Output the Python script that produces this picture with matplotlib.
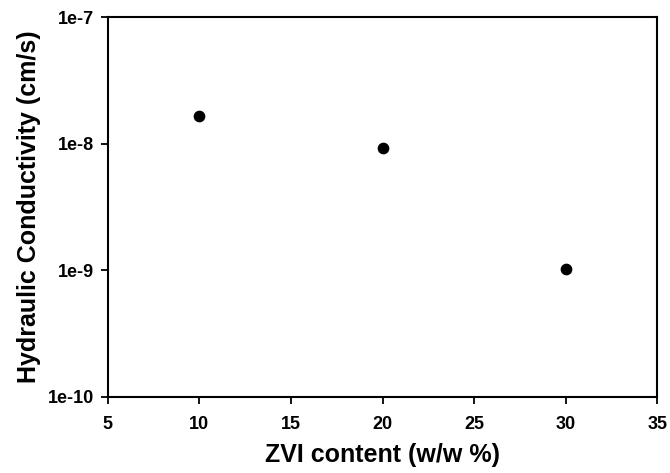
import matplotlib
matplotlib.use("Agg")
import matplotlib.pyplot as plt
from matplotlib.ticker import FixedLocator, FixedFormatter, NullLocator

zvi = [10, 20, 30]
conductivity = [1.65e-8, 9.3e-9, 1.02e-9]
ytick_vals = [1e-10, 1e-9, 1e-8, 1e-7]
ytick_labels = ["1e-10", "1e-9", "1e-8", "1e-7"]
xtick_vals = [5, 10, 15, 20, 25, 30, 35]

plt.rcParams['font.family'] = ['Liberation Sans', 'DejaVu Sans']

fig = plt.figure(figsize=(6.7, 4.73), dpi=100)
ax = fig.add_axes([0.161, 0.161, 0.820, 0.803])
ax.scatter(zvi, conductivity, s=55, color='black', zorder=3)
ax.set_yscale('log')
ax.set_ylim(1e-10, 1e-7)
ax.set_xlim(5, 35)
ax.yaxis.set_major_locator(FixedLocator(ytick_vals))
ax.yaxis.set_major_formatter(FixedFormatter(ytick_labels))
ax.yaxis.set_minor_locator(NullLocator())
ax.set_xticks(xtick_vals)
for s in ax.spines.values():
    s.set_linewidth(1.5)
    s.set_color('black')
ax.tick_params(axis='both', direction='out', length=5, width=1.3, labelsize=13)
ax.tick_params(axis='x', pad=9)
ax.tick_params(axis='y', pad=5)
for lab in ax.get_xticklabels() + ax.get_yticklabels():
    lab.set_fontweight('bold')
ax.set_xlabel("ZVI content (w/w %)", fontsize=18, fontweight='bold', labelpad=7)
ax.set_ylabel("Hydraulic Conductivity (cm/s)", fontsize=18, fontweight='bold', labelpad=5)
fig.savefig("out.png", dpi=100)
